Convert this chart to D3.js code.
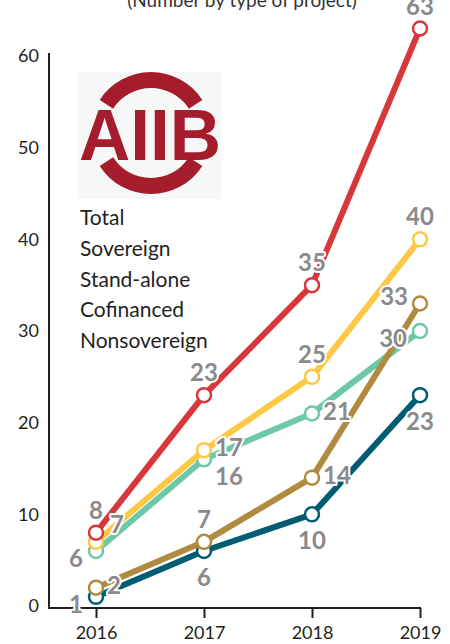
<!DOCTYPE html>
<html>
<head>
<meta charset="utf-8">
<script src="https://cdn.jsdelivr.net/npm/d3@7"></script>
<style>
body { margin: 0; background: #fff; }
svg text { font-family: Lato, "Noto Sans", sans-serif; }
.axis text { font-size: 18px; fill: #231f20; }
.legend text { font-size: 21px; fill: #231f20; }
.val { font-size: 24px; font-weight: 700; fill: #8a8a8c; stroke: #fff; stroke-width: 4px; paint-order: stroke; stroke-linejoin: round; }
</style>
</head>
<body>
<svg id="chart"></svg>
<script>
var years = [2016, 2017, 2018, 2019];
var seriesNames = ["Total", "Sovereign", "Stand-alone", "Cofinanced", "Nonsovereign"];
var total = [8, 23, 35, 63];
var sovereign = [7, 17, 25, 40];
var standAlone = [6, 16, 21, 30];
var cofinanced = [2, 7, 14, 33];
var nonsovereign = [1, 6, 10, 23];
var yTicks = [0, 10, 20, 30, 40, 50, 60];
var subtitle = "(Number by type of project)";

var colors = {
    "Total": "#d7373b",
    "Sovereign": "#fdc843",
    "Stand-alone": "#6dc8a8",
    "Cofinanced": "#b08a3e",
    "Nonsovereign": "#005c72"
};

// where each value label sits relative to its dot
var labelSpots = {
    "Total": ["n", "n", "n", "n"],
    "Sovereign": ["ne", "e", "n", "n"],
    "Stand-alone": ["w", "se", "e", "w"],
    "Cofinanced": ["e", "n", "e", "nw"],
    "Nonsovereign": ["w", "s", "s", "s"]
};
var spotStyle = {
    n:  { dx: 0,   dy: -14, anchor: "middle" },
    s:  { dx: 0,   dy: 35,  anchor: "middle" },
    e:  { dx: 11,  dy: 6,   anchor: "start" },
    w:  { dx: -13, dy: 16,  anchor: "end" },
    ne: { dx: 14,  dy: -9,  anchor: "start" },
    se: { dx: 11,  dy: 26,  anchor: "start" },
    nw: { dx: -12, dy: 1,   anchor: "end" }
};

var w = 450,
    h = 644;

var svg = d3.select("#chart")
    .attr("width", w)
    .attr("height", h);

var x = d3.scaleLinear()
    .domain([2016, 2019])
    .range([96, 420]);

var y = d3.scaleLinear()
    .domain([0, 60])
    .range([606, 56]);

var series = [
    { name: "Total", values: total },
    { name: "Sovereign", values: sovereign },
    { name: "Stand-alone", values: standAlone },
    { name: "Cofinanced", values: cofinanced },
    { name: "Nonsovereign", values: nonsovereign }
];

// subtitle, mostly cropped off the top like the original
svg.append("text")
    .attr("x", 242)
    .attr("y", 7)
    .attr("text-anchor", "middle")
    .style("font-size", "19px")
    .style("fill", "#333")
    .text(subtitle);

// axes
var yAxis = svg.append("g")
    .attr("class", "axis y-axis")
    .attr("transform", "translate(49,0)")
    .call(d3.axisLeft(y).tickValues(yTicks).tickSize(0).tickPadding(10));
yAxis.select(".domain").remove();
yAxis.selectAll("text").attr("dy", "0.32em");

var xAxis = svg.append("g")
    .attr("class", "axis x-axis")
    .attr("transform", "translate(0,608)")
    .call(d3.axisBottom(x).tickValues(years).tickFormat(d3.format("d")).tickSize(10).tickPadding(8));
xAxis.select(".domain").remove();
xAxis.selectAll(".tick line").attr("stroke", "#231f20").attr("stroke-width", 2);

svg.append("line")
    .attr("x1", 49).attr("x2", 49)
    .attr("y1", y(60) - 3).attr("y2", y(0) + 3)
    .attr("stroke", "#231f20").attr("stroke-width", 2);
svg.append("line")
    .attr("x1", 48).attr("x2", x(2019) + 1)
    .attr("y1", y(0) + 2).attr("y2", y(0) + 2)
    .attr("stroke", "#231f20").attr("stroke-width", 2);

// AIIB logo
var logo = svg.append("g");
svg.append("clipPath").attr("id", "logoclip")
    .append("rect").attr("x", 78).attr("y", 72).attr("width", 143).attr("height", 127);
logo.attr("clip-path", "url(#logoclip)");
logo.append("rect")
    .attr("x", 78).attr("y", 72).attr("width", 143).attr("height", 127)
    .attr("fill", "#f5f8f7");
var ring = d3.arc().innerRadius(45).outerRadius(61);
logo.append("path")
    .attr("transform", "translate(151,133)")
    .attr("d", ring({ startAngle: -1.0, endAngle: 1.0 }))
    .attr("fill", "#a51d2d");
logo.append("path")
    .attr("transform", "translate(151,133)")
    .attr("d", ring({ startAngle: Math.PI - 1.0, endAngle: Math.PI + 1.0 }))
    .attr("fill", "#a51d2d");
logo.append("text")
    .attr("x", 79).attr("y", 160)
    .attr("textLength", 142)
    .attr("lengthAdjust", "spacingAndGlyphs")
    .style("font-family", "'Liberation Sans', Arial, sans-serif")
    .style("font-weight", "bold")
    .style("font-size", "73px")
    .style("fill", "#a51d2d")
    .text("AIIB");

// legend (text only)
svg.append("g")
    .attr("class", "legend")
    .selectAll("text")
    .data(seriesNames)
    .enter()
    .append("text")
    .attr("x", 80)
    .attr("y", function(d, i) { return 225 + i * 30.8; })
    .text(function(d) { return d; });

// lines and dots, bottom series first
var drawOrder = ["Nonsovereign", "Stand-alone", "Cofinanced", "Sovereign", "Total"];
var line = d3.line()
    .x(function(d, i) { return x(years[i]); })
    .y(function(d) { return y(d); });

drawOrder.forEach(function(name) {
    var s = series.filter(function(d) { return d.name === name; })[0];
    var g = svg.append("g").attr("class", "series");
    g.append("path")
        .attr("d", line(s.values))
        .attr("fill", "none")
        .attr("stroke", colors[name])
        .attr("stroke-width", 6)
        .attr("stroke-linejoin", "round");
    g.selectAll(".dot")
        .data(s.values)
        .enter()
        .append("circle")
        .attr("class", "dot")
        .attr("cx", function(d, i) { return x(years[i]); })
        .attr("cy", function(d) { return y(d); })
        .attr("r", 7)
        .attr("fill", "#fff")
        .attr("stroke", colors[name])
        .attr("stroke-width", 2.5);
});

// value labels on top of everything
series.forEach(function(s) {
    svg.append("g").selectAll("text")
        .data(s.values)
        .enter()
        .append("text")
        .attr("class", "val")
        .attr("x", function(d, i) { return x(years[i]) + spotStyle[labelSpots[s.name][i]].dx; })
        .attr("y", function(d, i) { return y(d) + spotStyle[labelSpots[s.name][i]].dy; })
        .attr("text-anchor", function(d, i) { return spotStyle[labelSpots[s.name][i]].anchor; })
        .text(function(d) { return d; });
});
</script>
</body>
</html>
